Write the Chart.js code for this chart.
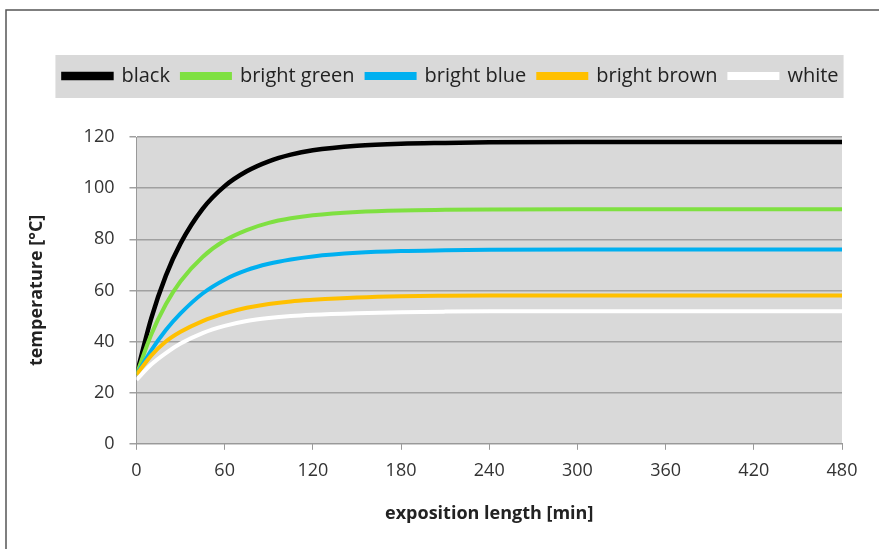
<!DOCTYPE html>
<html>
<head>
<meta charset="utf-8">
<script src="https://cdn.jsdelivr.net/npm/chart.js@4.4.1/dist/chart.umd.min.js"></script>
<style>
    body { margin: 0; background: #fff; }
    #wrap { position: relative; width: 879px; height: 549px; }
</style>
</head>
<body>
<div id="wrap"><canvas id="tempChart" width="879" height="549"></canvas></div>
<script>
// exposition time in minutes
const minutes = [0, 10, 20, 30, 45, 60, 75, 90, 105, 120, 150, 180, 210, 240, 300, 360, 420, 480];

// surface temperature per colour [°C]
const black = [27, 49, 65.8, 78.4, 91.9, 100.8, 106.6, 110.5, 113.1, 114.8, 116.6, 117.4, 117.7, 117.9, 118, 118, 118, 118];
const brightGreen = [27, 42.7, 54.6, 63.6, 73.1, 79.5, 83.6, 86.4, 88.2, 89.4, 90.7, 91.3, 91.5, 91.6, 91.7, 91.7, 91.7, 91.7];
const brightBlue = [27, 36.5, 44.5, 51, 58.8, 64.2, 67.9, 70.4, 72.1, 73.3, 74.7, 75.4, 75.7, 75.9, 76, 76, 76, 76];
const brightBrown = [27, 34.5, 40, 43.8, 48, 51, 53.2, 54.7, 55.7, 56.3, 57.2, 57.7, 57.9, 58, 58, 58, 58, 58];
const white = [25, 31, 35.5, 39.2, 43.3, 46.1, 48, 49.2, 50, 50.5, 51.1, 51.5, 51.7, 51.8, 51.8, 51.8, 51.8, 51.8];

const seriesNames = ['black', 'bright green', 'bright blue', 'bright brown', 'white'];
const seriesColors = ['#000000', '#7fe041', '#00b0f0', '#ffc000', '#ffffff'];
const seriesValues = [black, brightGreen, brightBlue, brightBrown, white];

const FONT = "'Open Sans', 'Liberation Sans', sans-serif";
const LEGEND_SHIFT = 19;

function toPoints(values) {
    return values.map((v, i) => ({ x: minutes[i], y: v }));
}

// make room under the legend and nudge it right
const legendLayout = {
    id: 'legendLayout',
    beforeInit(chart) {
        const origFit = chart.legend.fit;
        chart.legend.fit = function() {
            origFit.bind(chart.legend)();
            this.height += 41;
        };
    },
    afterLayout(chart) {
        const lg = chart.legend;
        lg.left += LEGEND_SHIFT;
        lg.right += LEGEND_SHIFT;
        lg.legendHitBoxes.forEach(h => { h.left += LEGEND_SHIFT; });
    }
};

// gray backgrounds for plot area and legend, plus the outer frame
const backgrounds = {
    id: 'backgrounds',
    beforeDraw(chart) {
        const ctx = chart.ctx;
        const area = chart.chartArea;
        ctx.save();
        ctx.fillStyle = '#d9d9d9';
        ctx.fillRect(area.left, area.top, area.right - area.left, area.bottom - area.top);

        const boxes = chart.legend.legendHitBoxes;
        if (boxes && boxes.length) {
            let l = Infinity, r = -Infinity, t = Infinity, b = -Infinity;
            boxes.forEach(h => {
                l = Math.min(l, h.left); r = Math.max(r, h.left + h.width);
                t = Math.min(t, h.top); b = Math.max(b, h.top + h.height);
            });
            ctx.fillRect(l - 8, t - 11, r - l + 13, b - t + 23);
        }

        ctx.strokeStyle = '#555';
        ctx.lineWidth = 1.5;
        ctx.strokeRect(6, 10, 1000, 1000);
        ctx.restore();
    }
};

const ctx = document.getElementById('tempChart').getContext('2d');
new Chart(ctx, {
    type: 'line',
    data: {
        datasets: seriesNames.map((name, i) => ({
            label: name,
            data: toPoints(seriesValues[i]),
            borderColor: seriesColors[i],
            backgroundColor: seriesColors[i],
            borderWidth: i === 0 ? 4.5 : 4,
            pointRadius: 0,
            cubicInterpolationMode: 'monotone',
            fill: false
        })).reverse()
    },
    options: {
        responsive: false,
        animation: false,
        layout: { padding: { left: 22, right: 37, top: 54, bottom: 20 } },
        plugins: {
            tooltip: { enabled: false },
            legend: {
                position: 'top',
                reverse: true,
                labels: {
                    boxWidth: 48,
                    boxHeight: 4,
                    padding: 12,
                    color: '#222',
                    font: { family: FONT, size: 20 }
                }
            }
        },
        scales: {
            x: {
                type: 'linear',
                min: 0,
                max: 480,
                ticks: { stepSize: 60, color: '#333', font: { family: FONT, size: 18 }, padding: 10 },
                grid: { drawOnChartArea: false, drawTicks: true, tickLength: 6, color: '#999' },
                border: { display: true, color: '#999', width: 1 },
                title: {
                    display: true,
                    text: 'exposition length [min]',
                    color: '#222',
                    font: { family: FONT, size: 18, weight: 'bold' },
                    padding: { top: 12 }
                }
            },
            y: {
                min: 0,
                max: 120,
                ticks: { stepSize: 20, color: '#333', font: { family: FONT, size: 18 }, padding: 15 },
                grid: { color: '#a0a0a0', lineWidth: 1.5, tickLength: 7 },
                border: { display: true, color: '#999', width: 1 },
                title: {
                    display: true,
                    text: 'temperature [°C]',
                    color: '#222',
                    font: { family: FONT, size: 18, weight: 'bold' },
                    padding: { bottom: 21 }
                }
            }
        }
    },
    plugins: [legendLayout, backgrounds]
});
</script>
</body>
</html>
